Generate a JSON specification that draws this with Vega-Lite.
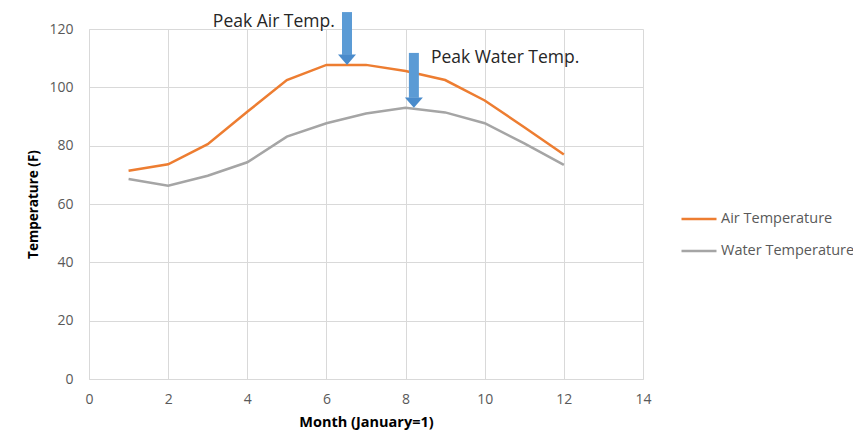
{
  "$schema": "https://vega.github.io/schema/vega-lite/v6.json",
  "width": 554,
  "height": 350,
  "autosize": {"type": "none"},
  "padding": {"left": 89, "top": 29, "right": 210, "bottom": 57},
  "background": "white",
  "config": {
    "font": "Open Sans",
    "view": {"stroke": null},
    "axis": {
      "gridColor": "#d9d9d9",
      "gridWidth": 1,
      "domainColor": "#d9d9d9",
      "ticks": false,
      "labelColor": "#595959",
      "labelFontSize": 14,
      "labelFont": "Open Sans",
      "titleFont": "Open Sans",
      "titleFontWeight": "bold",
      "titleColor": "#000000",
      "labelFlush": false
    }
  },
  "datasets": {
    "temps": [
      {"month": 1, "series": "Air Temperature", "temp": 71.4},
      {"month": 2, "series": "Air Temperature", "temp": 73.6},
      {"month": 3, "series": "Air Temperature", "temp": 80.5},
      {"month": 4, "series": "Air Temperature", "temp": 91.6},
      {"month": 5, "series": "Air Temperature", "temp": 102.5},
      {"month": 6, "series": "Air Temperature", "temp": 107.7},
      {"month": 7, "series": "Air Temperature", "temp": 107.7},
      {"month": 8, "series": "Air Temperature", "temp": 105.6},
      {"month": 9, "series": "Air Temperature", "temp": 102.5},
      {"month": 10, "series": "Air Temperature", "temp": 95.5},
      {"month": 11, "series": "Air Temperature", "temp": 86.3},
      {"month": 12, "series": "Air Temperature", "temp": 77.0},
      {"month": 1, "series": "Water Temperature", "temp": 68.6},
      {"month": 2, "series": "Water Temperature", "temp": 66.3},
      {"month": 3, "series": "Water Temperature", "temp": 69.7},
      {"month": 4, "series": "Water Temperature", "temp": 74.3},
      {"month": 5, "series": "Water Temperature", "temp": 83.1},
      {"month": 6, "series": "Water Temperature", "temp": 87.7},
      {"month": 7, "series": "Water Temperature", "temp": 91.0},
      {"month": 8, "series": "Water Temperature", "temp": 93.0},
      {"month": 9, "series": "Water Temperature", "temp": 91.4},
      {"month": 10, "series": "Water Temperature", "temp": 87.7},
      {"month": 11, "series": "Water Temperature", "temp": 80.8},
      {"month": 12, "series": "Water Temperature", "temp": 73.4}
    ],
    "arrows": [
      {"label": "Peak Air Temp.", "month": 6.52, "top": 125.8, "tip": 107.7},
      {"label": "Peak Water Temp.", "month": 8.21, "top": 111.8, "tip": 93.0}
    ],
    "notes": [
      {"label": "Peak Air Temp.", "month": 3.13, "temp": 122.4},
      {"label": "Peak Water Temp.", "month": 8.64, "temp": 110.1}
    ]
  },
  "layer": [
    {
      "data": {"name": "temps"},
      "mark": {"type": "line", "strokeWidth": 2.5},
      "encoding": {
        "x": {
          "field": "month", "type": "quantitative",
          "scale": {"domain": [0, 14], "nice": false},
          "axis": {"values": [0, 2, 4, 6, 8, 10, 12, 14], "title": "Month (January=1)", "titleFontSize": 14.5, "titlePadding": 9, "labelPadding": 13}
        },
        "y": {
          "field": "temp", "type": "quantitative",
          "scale": {"domain": [0, 120], "nice": false},
          "axis": {"values": [0, 20, 40, 60, 80, 100, 120], "title": "Temperature (F)", "titleFontSize": 13.5, "titlePadding": 8, "labelPadding": 16}
        },
        "color": {
          "field": "series", "type": "nominal",
          "scale": {"domain": ["Air Temperature", "Water Temperature"], "range": ["#ed7d31", "#a5a5a5"]},
          "legend": {
            "title": null,
            "orient": "none",
            "legendX": 591,
            "legendY": 171,
            "symbolType": "stroke",
            "symbolSize": 1225,
            "symbolStrokeWidth": 2.5,
            "labelFontSize": 14.5,
            "labelFont": "Open Sans",
            "labelColor": "#595959",
            "labelOffset": 3,
            "labelLimit": 300,
            "rowPadding": 6
          }
        }
      }
    },
    {
      "data": {"name": "arrows"},
      "mark": {"type": "rule", "strokeWidth": 10, "color": "#5b9bd5", "strokeCap": "butt", "y2Offset": -10},
      "encoding": {
        "x": {"field": "month", "type": "quantitative"},
        "y": {"field": "top", "type": "quantitative"},
        "y2": {"field": "tip"}
      }
    },
    {
      "data": {"name": "arrows"},
      "mark": {"type": "point", "shape": "M-1,-1.15L1,-1.15L0,0Z", "size": 324, "filled": true, "color": "#4a8bcb", "opacity": 1},
      "encoding": {
        "x": {"field": "month", "type": "quantitative"},
        "y": {"field": "tip", "type": "quantitative"}
      }
    },
    {
      "data": {"name": "notes"},
      "mark": {"type": "text", "align": "left", "baseline": "middle", "fontSize": 17.5, "color": "#262626", "font": "Open Sans"},
      "encoding": {
        "x": {"field": "month", "type": "quantitative"},
        "y": {"field": "temp", "type": "quantitative"},
        "text": {"field": "label"}
      }
    }
  ]
}
